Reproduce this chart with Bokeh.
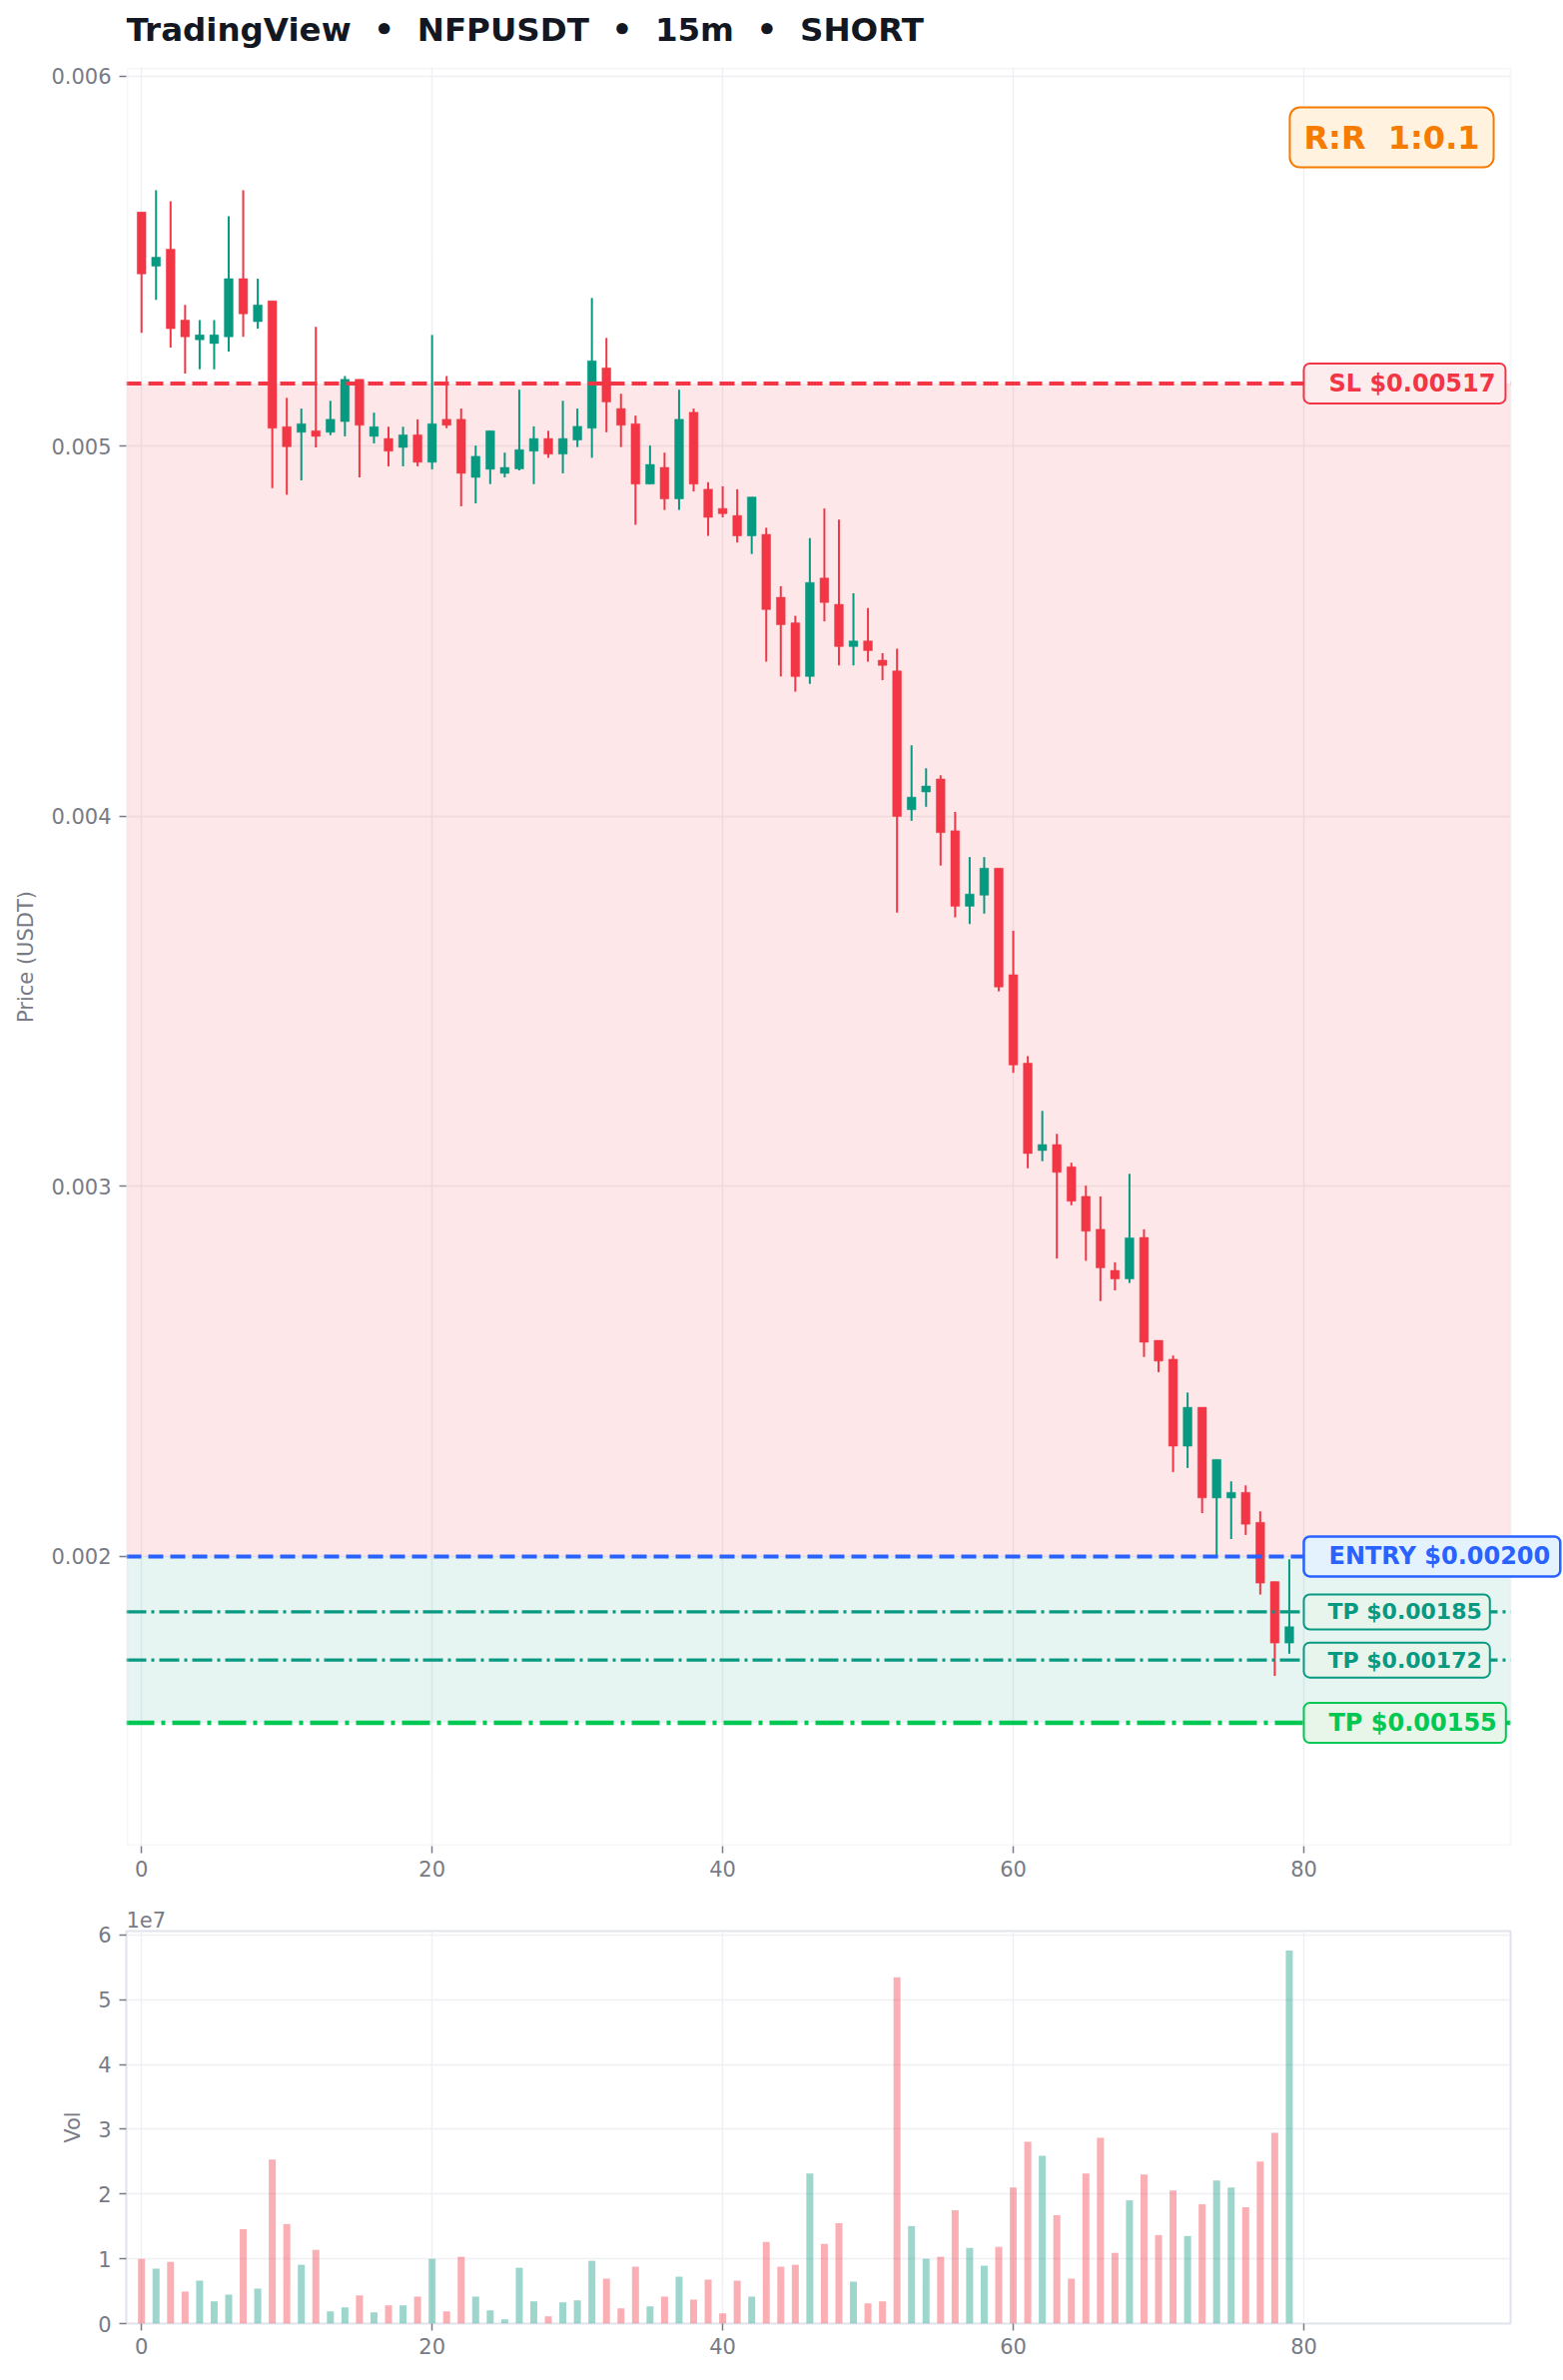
from bokeh.plotting import figure
from bokeh.models import (Range1d, FixedTicker, Label, Span, BoxAnnotation,
                          CustomJSTickFormatter, ColumnDataSource)
from bokeh.layouts import column
from bokeh.embed import file_html
from bokeh.resources import INLINE

FONT = "DejaVu Sans"
UP = "#089981"
DOWN = "#f23645"
GRAY = "#787b86"
NB = "\u00a0"

# ---------------- data ----------------
idx = list(range(80))
opens = [0.005633, 0.005487, 0.005533, 0.005341, 0.005288, 0.005278, 0.005296, 0.005453, 0.005337, 0.005393,
         0.005053, 0.005038, 0.005042, 0.005038, 0.005067, 0.005181, 0.005027, 0.005021, 0.004997, 0.005031,
         0.004957, 0.005073, 0.005073, 0.004916, 0.004938, 0.004927, 0.004939, 0.004987, 0.005021, 0.004979,
         0.005017, 0.005049, 0.005212, 0.005102, 0.005061, 0.004898, 0.004943, 0.004858, 0.005092, 0.004884,
         0.004832, 0.004813, 0.004758, 0.004762, 0.004592, 0.004523, 0.004378, 0.004644, 0.004573, 0.004459,
         0.004474, 0.004422, 0.004393, 0.004018, 0.004066, 0.004101, 0.003961, 0.003757, 0.003787, 0.003860,
         0.003572, 0.003333, 0.003097, 0.003113, 0.003053, 0.002973, 0.002884, 0.002773, 0.002750, 0.002862,
         0.002584, 0.002533, 0.002298, 0.002403, 0.002158, 0.002158, 0.002173, 0.002092, 0.001932, 0.001766]
highs = [0.005633, 0.005692, 0.005662, 0.005382, 0.005341, 0.005341, 0.005622, 0.005692, 0.005453, 0.005393,
         0.005131, 0.005102, 0.005323, 0.005123, 0.005190, 0.005181, 0.005091, 0.005053, 0.005053, 0.005073,
         0.005301, 0.005190, 0.005102, 0.005002, 0.005042, 0.004983, 0.005153, 0.005054, 0.005042, 0.005123,
         0.005102, 0.005401, 0.005293, 0.005142, 0.005083, 0.005002, 0.004983, 0.005153, 0.005102, 0.004903,
         0.004892, 0.004884, 0.004863, 0.004780, 0.004622, 0.004542, 0.004752, 0.004832, 0.004802, 0.004603,
         0.004563, 0.004441, 0.004453, 0.004192, 0.004130, 0.004111, 0.004012, 0.003890, 0.003890, 0.003860,
         0.003691, 0.003352, 0.003204, 0.003142, 0.003064, 0.003002, 0.002973, 0.002795, 0.003034, 0.002884,
         0.002584, 0.002543, 0.002443, 0.002403, 0.002262, 0.002203, 0.002192, 0.002122, 0.001932, 0.001992]
lows = [0.005307, 0.005396, 0.005267, 0.005197, 0.005208, 0.005208, 0.005256, 0.005296, 0.005318, 0.004887,
        0.004869, 0.004908, 0.004997, 0.005030, 0.005027, 0.004916, 0.005008, 0.004946, 0.004946, 0.004946,
        0.004938, 0.005049, 0.004838, 0.004846, 0.004898, 0.004916, 0.004935, 0.004898, 0.004969, 0.004927,
        0.004998, 0.004969, 0.005038, 0.004998, 0.004788, 0.004898, 0.004828, 0.004828, 0.004878, 0.004758,
        0.004808, 0.004740, 0.004709, 0.004418, 0.004378, 0.004337, 0.004358, 0.004527, 0.004408, 0.004408,
        0.004418, 0.004368, 0.003740, 0.003988, 0.004026, 0.003867, 0.003727, 0.003709, 0.003737, 0.003527,
        0.003307, 0.003049, 0.003068, 0.002805, 0.002949, 0.002799, 0.002690, 0.002719, 0.002739, 0.002539,
        0.002498, 0.002228, 0.002239, 0.002117, 0.002000, 0.002047, 0.002058, 0.001897, 0.001677, 0.001737]
closes = [0.005466, 0.005511, 0.005318, 0.005296, 0.005301, 0.005301, 0.005453, 0.005358, 0.005382, 0.005049,
          0.004999, 0.005061, 0.005027, 0.005073, 0.005181, 0.005057, 0.005053, 0.004987, 0.005031, 0.004957,
          0.005061, 0.005057, 0.004927, 0.004973, 0.005042, 0.004943, 0.004991, 0.005021, 0.004979, 0.005021,
          0.005054, 0.005231, 0.005120, 0.005057, 0.004898, 0.004951, 0.004858, 0.005073, 0.004898, 0.004808,
          0.004818, 0.004758, 0.004863, 0.004559, 0.004518, 0.004378, 0.004632, 0.004578, 0.004459, 0.004474,
          0.004448, 0.004408, 0.004000, 0.004052, 0.004082, 0.003956, 0.003757, 0.003790, 0.003860, 0.003539,
          0.003328, 0.003089, 0.003113, 0.003038, 0.002960, 0.002879, 0.002780, 0.002750, 0.002861, 0.002579,
          0.002528, 0.002298, 0.002403, 0.002158, 0.002262, 0.002173, 0.002087, 0.001928, 0.001766, 0.001810]
volumes = [1.000e7, 0.847e7, 0.954e7, 0.495e7, 0.663e7, 0.342e7, 0.449e7, 1.459e7, 0.541e7, 2.531e7,
           1.536e7, 0.908e7, 1.138e7, 0.189e7, 0.250e7, 0.434e7, 0.173e7, 0.281e7, 0.281e7, 0.418e7,
           1.000e7, 0.189e7, 1.031e7, 0.418e7, 0.204e7, 0.066e7, 0.862e7, 0.342e7, 0.112e7, 0.327e7,
           0.357e7, 0.969e7, 0.694e7, 0.235e7, 0.878e7, 0.265e7, 0.418e7, 0.724e7, 0.372e7, 0.679e7,
           0.158e7, 0.663e7, 0.418e7, 1.260e7, 0.878e7, 0.908e7, 2.316e7, 1.230e7, 1.551e7, 0.648e7,
           0.311e7, 0.342e7, 5.347e7, 1.505e7, 1.000e7, 1.031e7, 1.750e7, 1.168e7, 0.893e7, 1.184e7,
           2.102e7, 2.806e7, 2.592e7, 1.673e7, 0.694e7, 2.316e7, 2.867e7, 1.092e7, 1.903e7, 2.301e7,
           1.367e7, 2.056e7, 1.352e7, 1.842e7, 2.209e7, 2.102e7, 1.796e7, 2.500e7, 2.944e7, 5.760e7]

title_text = f"TradingView{NB}{NB}\u2022{NB}{NB}NFPUSDT{NB}{NB}\u2022{NB}{NB}15m{NB}{NB}\u2022{NB}{NB}SHORT"
sl_price = 0.00517
entry_price = 0.00200
tp_prices = [0.00185, 0.00172, 0.00155]
sl_text = "SL $0.00517"
entry_text = "ENTRY $0.00200"
tp_texts = ["TP $0.00185", "TP $0.00172", "TP $0.00155"]
rr_text = f"R:R{NB}{NB}1:0.1"
price_ticks = [0.002, 0.003, 0.004, 0.005, 0.006]
x_ticks = [0, 20, 40, 60, 80]
vol_ticks = [0, 1e7, 2e7, 3e7, 4e7, 5e7, 6e7]

# axis limits
X0, X1 = -1.045, 94.23
Y0, Y1 = 0.001217, 0.006024
V1 = 6.06e7

colors = [UP if c >= o else DOWN for o, c in zip(opens, closes)]
src = ColumnDataSource(dict(
    x=idx, o=opens, h=highs, l=lows, c=closes,
    top=[max(o, c) for o, c in zip(opens, closes)],
    bot=[min(o, c) for o, c in zip(opens, closes)],
    color=colors, vol=volumes))

# layout (pixels)
LEFT = 126
FW = 1386            # real frame width of both panels
CANVAS_W = 1564
TITLE_H = 55
PXU = FW / (X1 - X0)
MAIN_FW = CANVAS_W - LEFT            # main frame extended to hold right-side labels
X1_EXT = X0 + MAIN_FW / PXU
PXY = 1781 / (Y1 - Y0)


def style(fig):
    fig.background_fill_color = "white"
    fig.border_fill_color = "white"
    for ax in fig.axis:
        ax.axis_line_color = None
        ax.major_tick_line_color = GRAY
        ax.major_tick_line_width = 1.5
        ax.major_tick_out = 7
        ax.major_tick_in = 0
        ax.minor_tick_line_color = None
        ax.major_label_text_color = GRAY
        ax.major_label_text_font = FONT
        ax.major_label_text_font_size = "21px"
        ax.axis_label_text_color = GRAY
        ax.axis_label_text_font = FONT
        ax.axis_label_text_font_size = "21px"
        ax.axis_label_text_font_style = "normal"
    fig.xaxis.major_label_standoff = 7
    fig.yaxis.major_label_standoff = 8
    fig.yaxis.axis_label_standoff = 10
    fig.xaxis.ticker = FixedTicker(ticks=x_ticks)
    for g in fig.grid:
        g.grid_line_color = "#eef0f4"
        g.grid_line_width = 1.5


# ---------------- title strip ----------------
t = figure(frame_width=MAIN_FW, frame_height=TITLE_H,
           x_range=Range1d(0, MAIN_FW), y_range=Range1d(0, TITLE_H),
           output_backend="svg", toolbar_location=None,
           min_border_left=LEFT, min_border_right=0, min_border_top=0, min_border_bottom=0,
           x_axis_location=None, y_axis_location=None)
t.grid.visible = False
t.outline_line_color = None
t.background_fill_color = "white"
t.border_fill_color = "white"
t.add_layout(Label(x=0, y=25.5, text=title_text, text_font=FONT, text_font_size="32.5px",
                   text_font_style="bold", text_color="#131722", text_align="left",
                   text_baseline="alphabetic"))

# ---------------- main price chart ----------------
p = figure(frame_width=MAIN_FW, frame_height=1781,
           x_range=Range1d(X0, X1_EXT), y_range=Range1d(Y0, Y1),
           output_backend="svg", toolbar_location=None,
           min_border_left=LEFT, min_border_right=0, min_border_top=67 - TITLE_H, min_border_bottom=52)
style(p)
p.outline_line_color = None
p.yaxis.ticker = FixedTicker(ticks=price_ticks)
p.yaxis.axis_label = "Price (USDT)"

p.add_layout(BoxAnnotation(bottom=entry_price, top=sl_price, fill_color=DOWN, fill_alpha=0.12,
                           line_color=None, level="underlay"))
p.add_layout(BoxAnnotation(bottom=tp_prices[2], top=entry_price, fill_color=UP, fill_alpha=0.10,
                           line_color=None, level="underlay"))

p.segment(x0="x", y0="l", x1="x", y1="h", source=src, line_color="color", line_width=2)
p.vbar(x="x", width=0.6, top="top", bottom="bot", source=src,
       fill_color="color", line_color="color", line_width=0.5)

p.add_layout(Span(location=sl_price, dimension="width", line_color=DOWN, line_width=4, line_dash="15 7"))
p.add_layout(Span(location=entry_price, dimension="width", line_color="#2962ff", line_width=4, line_dash="15 7"))
p.add_layout(Span(location=tp_prices[0], dimension="width", line_color=UP, line_width=3.2, line_dash="20 5 3 5"))
p.add_layout(Span(location=tp_prices[1], dimension="width", line_color=UP, line_width=3.2, line_dash="20 5 3 5"))
p.add_layout(Span(location=tp_prices[2], dimension="width", line_color="#00c853", line_width=4.5,
                  line_dash="28 7 4 7"))

# blank strip to the right of the real plot frame, then the frame outline
p.add_layout(BoxAnnotation(left=X1, fill_color="white", fill_alpha=1.0, line_color=None, level="overlay"))
p.add_layout(BoxAnnotation(left=X0 + 1.0 / PXU, right=X1, bottom=Y0 + 1.0 / PXY, top=Y1 - 1.0 / PXY,
                           fill_alpha=0.0, line_color="#e0e3eb", line_width=2, level="overlay"))


def price_label(y, text, color, fill, size, pad, bw=2):
    p.add_layout(Label(x=80, y=y, text=text, text_color=color, text_font=FONT,
                       text_font_style="bold", text_font_size=size,
                       text_align="left", text_baseline="middle",
                       background_fill_color=fill, border_line_color=color,
                       border_line_width=bw, border_radius=6, padding=pad, level="overlay"))


price_label(sl_price, sl_text, DOWN, "#fdecee", "24px", dict(left=25, right=10, top=6, bottom=6))
price_label(entry_price, entry_text, "#2962ff", "#e3f2fd", "24px", dict(left=25, right=10, top=6, bottom=6), 2.5)
price_label(tp_prices[0], tp_texts[0], UP, "#e8f5ec", "22px", dict(left=24, right=8, top=5, bottom=5))
price_label(tp_prices[1], tp_texts[1], UP, "#e8f5ec", "22px", dict(left=24, right=8, top=5, bottom=5))
price_label(tp_prices[2], tp_texts[2], "#00c853", "#e8f5e9", "24px", dict(left=25, right=9, top=6, bottom=6))

p.add_layout(Label(x=86.05, y=0.005835, text=rr_text, text_color="#f57c00", text_font=FONT,
                   text_font_style="bold", text_font_size="32px", text_align="center",
                   text_baseline="middle", background_fill_color="#fff3e0",
                   border_line_color="#f57c00", border_line_width=2, border_radius=10,
                   padding=dict(left=14, right=14, top=11, bottom=11), level="overlay"))

# ---------------- volume chart ----------------
v = figure(frame_width=FW, frame_height=393,
           x_range=Range1d(X0, X1), y_range=Range1d(0, V1),
           output_backend="svg", toolbar_location=None,
           min_border_left=LEFT, min_border_right=CANVAS_W - LEFT - FW,
           min_border_top=33, min_border_bottom=45)
v.title.text = "1e7"
v.title.text_font = FONT
v.title.text_font_size = "21px"
v.title.text_font_style = "normal"
v.title.text_color = GRAY
v.title.align = "left"
v.title.standoff = 7
style(v)
v.outline_line_color = "#e0e3eb"
v.outline_line_width = 2
v.yaxis.ticker = FixedTicker(ticks=vol_ticks)
v.yaxis.formatter = CustomJSTickFormatter(code="return (tick/1e7).toFixed(0);")
v.yaxis.axis_label = "Vol"
v.vbar(x="x", width=0.48, top="vol", bottom=0, source=src, fill_color="color",
       fill_alpha=0.4, line_color=None)

layout = column(t, p, v)
open("out.html", "w").write(file_html(layout, INLINE))
